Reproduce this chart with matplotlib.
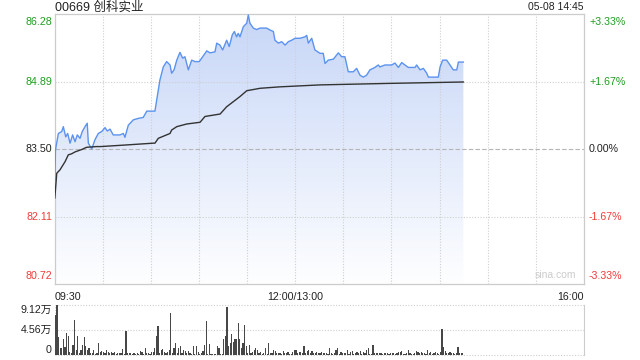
import numpy as np
import matplotlib.pyplot as plt
from matplotlib.patches import Polygon
import matplotlib.transforms as mtransforms

# 00669 创科实业 分时图 (05-08)
plt.rcParams['font.family'] = ['Liberation Sans', 'Noto Sans CJK SC', 'DejaVu Sans']

prev_close = 83.50
y_ticks = [86.28, 84.89, 83.50, 82.11, 80.72]
pct_labels = ['+3.33%', '+1.67%', '0.00%', '-1.67%', '-3.33%']
tick_colors = ['#1f9e1f', '#1f9e1f', '#222222', '#f03a3a', '#f03a3a']
vol_ticks = [9.12, 4.56, 0]
vol_labels = ['9.12万', '4.56万', '0']
x_labels = ['09:30', '12:00/13:00', '16:00']
x_label_pos = [0, 150, 330]

# minutes since 09:30 (lunch break removed) and price
times = [0.2, 0.6, 2.4, 4.5, 5.5, 7.0, 8.2, 9.7, 11.3, 12.8, 14.2, 15.9, 17.3, 19.0,
         20.4, 21.1, 23.2, 25.2, 27.3, 29.4, 31.5, 32.9, 34.6, 36.6, 40.8, 42.9,
         43.9, 46.0, 49.1, 52.2, 55.3, 57.5, 62.6, 63.7, 65.7, 67.8, 69.9, 72.0,
         73.0, 74.5, 76.2, 78.2, 79.9, 81.3, 83.4, 85.5, 87.6, 90.2, 91.7, 94.9,
         96.9, 100.0, 101.1, 103.1, 104.8, 107.3, 108.9, 110.8, 112.1, 113.5,
         114.5, 115.6, 117.7, 119.8, 120.8, 121.8, 123.9, 126.0, 128.1, 132.2,
         134.3, 136.4, 137.4, 139.5, 141.6, 143.7, 145.7, 147.8, 149.9, 153.0,
         156.1, 157.2, 158.2, 160.3, 162.3, 165.5, 167.5, 168.6, 170.6, 173.8,
         176.9, 179.0, 181.0, 183.1, 186.2, 188.3, 190.4, 192.4, 194.5, 196.6,
         199.7, 201.8, 202.8, 205.9, 210.1, 212.2, 214.3, 216.4, 218.4, 220.5,
         224.7, 225.7, 227.8, 229.9, 232.0, 233.0, 239.2, 240.3, 241.9, 244.4,
         246.5, 248.5, 250.7, 251.7, 254.8]
prices = [82.86, 83.48, 83.82, 83.86, 83.96, 83.75, 83.82, 83.62, 83.79, 83.65,
          83.79, 83.72, 83.86, 83.96, 84.03, 83.62, 83.50, 83.69, 83.82, 83.86,
          83.94, 83.87, 83.91, 83.79, 83.79, 83.82, 83.74, 83.99, 84.10, 84.13,
          84.15, 84.28, 84.28, 84.51, 84.92, 85.19, 85.30, 85.23, 85.06, 85.13,
          85.33, 85.49, 85.37, 85.40, 85.13, 85.33, 85.30, 85.30, 85.37, 85.52,
          85.48, 85.50, 85.68, 85.64, 85.54, 85.74, 85.61, 85.85, 85.92, 85.81,
          85.88, 85.81, 86.02, 86.09, 86.26, 86.09, 85.99, 85.96, 85.99, 85.99,
          85.95, 85.92, 85.74, 85.68, 85.71, 85.64, 85.71, 85.74, 85.78, 85.78,
          85.81, 85.84, 85.68, 85.78, 85.54, 85.47, 85.47, 85.26, 85.33, 85.35,
          85.48, 85.40, 85.40, 85.09, 85.09, 85.16, 85.02, 84.98, 85.02, 85.13,
          85.18, 85.23, 85.19, 85.23, 85.23, 85.27, 85.18, 85.28, 85.23, 85.18,
          85.18, 85.23, 85.13, 85.16, 85.06, 84.98, 84.98, 85.19, 85.33, 85.33,
          85.23, 85.13, 85.13, 85.29, 85.29]

avg_times = [0.2, 1.4, 3.4, 6.6, 8.6, 10.6, 12.8, 17.0, 20.0, 26.0, 28.7, 43.2,
             61.6, 62.6, 64.7, 72.0, 73.0, 76.2, 82.4, 90.7, 93.8, 103.2, 107.3,
             115.6, 119.8, 128.1, 140.5, 153.0, 165.5, 207.0, 254.8]
avg_prices = [82.49, 83.00, 83.07, 83.24, 83.38, 83.40, 83.44, 83.49, 83.535,
              83.55, 83.55, 83.58, 83.62, 83.62, 83.72, 83.82, 83.89, 83.96,
              84.015, 84.05, 84.17, 84.22, 84.37, 84.58, 84.70, 84.75, 84.78,
              84.80, 84.82, 84.85, 84.88]

# volume per minute, in 万 shares
volume = [7.3, 9.12, 3.3, 1.2, 1.2, 2.9, 1.5, 4.1, 3.5, 0.5, 0.4, 1.8, 6.4, 0.9,
          3.5, 0.3, 0.9, 1.8, 3.3, 1.6, 0.9, 1.3, 0.3, 0.3, 0.9, 0.2, 0.3, 2.2,
          0.6, 0.8, 0.5, 0.3, 0.9, 0.6, 0.4, 0.6, 0.3, 0.6, 0.2, 0.3,
          0.3, 0.4, 1.1, 0.2, 4.4, 0.4, 0.3, 0.4, 0.2, 0.3, 0.2, 0.4, 0.2, 0.7,
          0.5, 0.1, 1.3, 0.4, 0.3, 0.2, 0.6, 0.5, 1.3, 3.5, 5.2, 0.4, 0.9, 1.1,
          0.5, 0.3, 0.6, 0.9, 7.7, 0.3, 1.2, 2.2, 0.3, 1.3, 1.6, 0.3, 0.9, 0.8,
          0.4,
          0.7, 0.3, 0.2, 1.6, 0.2, 1.6, 0.6, 0.2, 0.4, 0.7, 1.8, 6.2, 0.2, 2.0,
          0.2, 0.2, 0.2, 0.2, 1.6, 1.2, 0.2, 0.2, 2.9, 3.5, 8.8, 1.6, 2.2, 3.8,
          2.4, 2.9, 2.9, 5.9, 2.9, 1.2, 2.2, 5.5, 1.6, 0.3, 1.8, 0.3, 0.6, 1.0,
          1.2,
          0.9, 0.4, 0.6, 0.2, 0.3, 1.2, 0.2, 2.2, 0.3, 0.3, 1.0, 0.8, 0.4, 0.3,
          0.3, 0.2, 0.7, 0.3, 0.3, 0.5, 0.2, 0.1, 0.6, 0.9, 0.9, 0.3, 0.5, 0.6,
          0.3, 1.6, 0.4, 0.7, 0.9, 0.3, 0.7, 0.3, 0.4, 0.6, 0.3, 0.4, 0.5, 0.3,
          0.3, 0.4, 0.2, 1.2, 0.3, 0.2, 0.3, 0.9, 1.2, 0.2, 0.6, 0.3, 0.4, 0.3,
          0.9, 0.2, 0.5, 0.7, 0.2, 0.3, 0.5, 0.3, 0.7, 0.2, 0.6, 0.4, 1.0, 1.2,
          0.2, 0.2, 1.8, 0.3, 0.4, 0.4, 0.3, 0.4, 0.2, 0.3, 0.4, 0.3, 0.2, 0.3,
          0.4,
          0.3, 0.2, 0.3, 0.6, 0.6, 0.7, 0.2, 0.2, 0.3, 0.9, 0.3, 0.2, 0.2, 0.3,
          0.7, 0.6, 0.4, 0.6, 0.3, 0.4, 0.2, 0.9, 0.4, 0.6, 0.2, 0.3, 0.5, 0.3,
          0.2, 0.5, 4.7, 1.5, 0.7, 0.3, 0.4, 0.5, 0.3, 0.3, 0.2, 0.4, 1.5, 0.3,
          0.4, 0.3]

fig = plt.figure(figsize=(6.4, 3.6), dpi=100)
ax = fig.add_axes([54.5 / 640, 1 - 284 / 360, 529.5 / 640, 270 / 360])
axv = fig.add_axes([54.5 / 640, 1 - 355 / 360, 529.5 / 640, 50 / 360])

ymin, ymax = y_ticks[-1], y_ticks[0]

# gradient fill under the price line
verts = [(times[0], ymin)] + list(zip(times, prices)) + [(times[-1], ymin)]
poly = Polygon(verts, closed=True, facecolor='none', edgecolor='none')
ax.add_patch(poly)
g = np.linspace(1, 0, 256)[:, None, None]
c_top = np.array([0.78, 0.84, 0.97])
c_bot = np.array([0.995, 0.997, 1.0])
img = c_bot + (c_top - c_bot) * g
im = ax.imshow(img, extent=[0, 330, ymin, ymax], aspect='auto', origin='upper', zorder=1)
im.set_clip_path(poly)

# grid
for m in range(30, 330, 30):
    ax.axvline(m, color='#cfcfcf', lw=0.8, ls=(0, (1, 1.5)), zorder=2)
for v in [84.89, 82.11]:
    ax.axhline(v, color='#cfcfcf', lw=0.8, ls=(0, (1, 1.5)), zorder=2)
ax.axhline(prev_close, color='#b5b5b5', lw=0.8, ls=(0, (4, 2)), zorder=2)

ax.plot(times, prices, color='#5b93ef', lw=1.0, zorder=4)
ax.plot(avg_times, avg_prices, color='#333333', lw=1.0, zorder=4)

ax.set_xlim(0, 330)
ax.set_ylim(ymin, ymax)
ax.set_xticks([])
ax.set_yticks([])
for s in ax.spines.values():
    s.set_color('#cccccc')
    s.set_linewidth(0.9)

fs = 7.7
trans_l = mtransforms.blended_transform_factory(fig.transFigure, ax.transData)
vas = ['top', 'center', 'center', 'center', 'bottom']
for v, lab, col, va in zip(y_ticks, pct_labels, tick_colors, vas):
    yy = v
    if va == 'top':
        yy = v - 0.06
    elif va == 'bottom':
        yy = v + 0.06
    ax.text(52 / 640, yy, f'{v:.2f}', transform=trans_l, ha='right', va=va,
            color=col, fontsize=fs)
    ax.text(589 / 640, yy, lab, transform=trans_l, ha='left', va=va,
            color=col, fontsize=fs)

for lab, pos in zip(x_labels, x_label_pos):
    ha = 'left' if pos == 0 else ('right' if pos == 330 else 'center')
    ax.text(pos, -0.03, lab, transform=ax.get_xaxis_transform(), ha=ha, va='top',
            fontsize=fs, color='#222222')

fig.text(55 / 640, 1 - 7.5 / 360, '00669 创科实业', ha='left', va='center',
         fontsize=9, color='#222222')
fig.text(584 / 640, 1 - 7.5 / 360, '05-08 14:45', ha='right', va='center',
         fontsize=7.5, color='#222222')
ax.text(0.985, 0.015, 'sina.com', transform=ax.transAxes, ha='right', va='bottom',
        fontsize=7.5, color='#cccccc')

# volume panel
vx = np.arange(len(volume)) + 0.5
axv.bar(vx, volume, width=0.75, color='#474747', zorder=3)
axv.set_xlim(0, 330)
axv.set_ylim(0, 9.12)
for v in vol_ticks:
    axv.axhline(v, color='#cfcfcf', lw=0.8, ls=(0, (1, 1.5)), zorder=1, clip_on=False)
axv.axvline(0, color='#cfcfcf', lw=0.8, ls=(0, (1, 1.5)), zorder=1)
axv.set_xticks([])
axv.set_yticks([])
for k in ['top', 'bottom', 'left']:
    axv.spines[k].set_visible(False)
axv.spines['right'].set_color('#cccccc')
trans_v = mtransforms.blended_transform_factory(fig.transFigure, axv.transData)
for v, lab, va in zip(vol_ticks, vol_labels, ['top', 'center', 'bottom']):
    axv.text(52 / 640, v, lab, transform=trans_v, ha='right', va=va,
             fontsize=fs, color='#222222')

fig.savefig('out.png', dpi=100)
